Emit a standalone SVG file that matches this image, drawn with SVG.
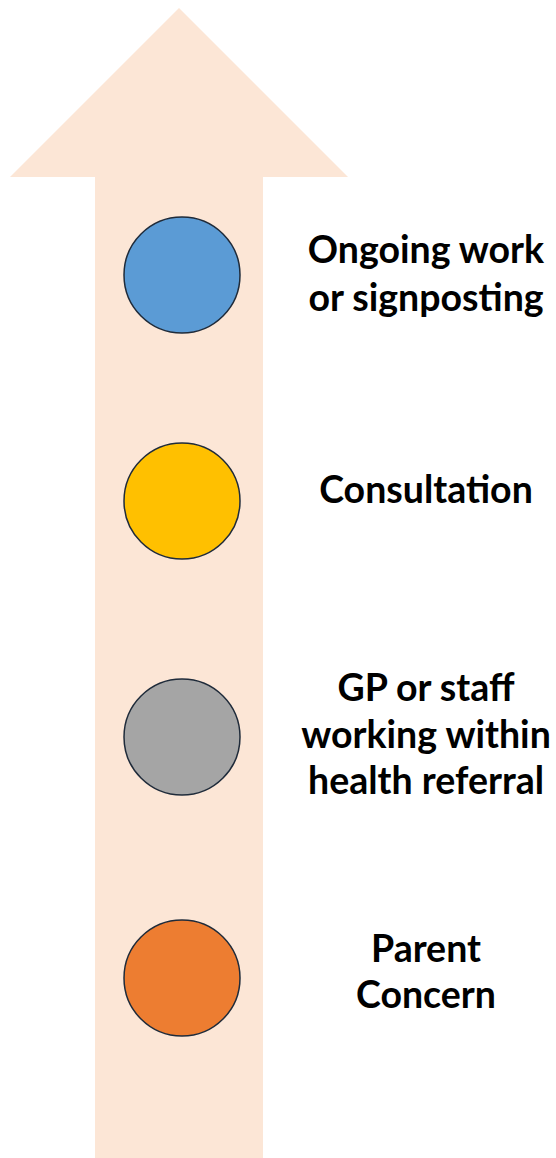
<svg xmlns="http://www.w3.org/2000/svg" width="556" height="1158" viewBox="0 0 556 1158">
<style>
.dot{stroke:#1f2b3a;stroke-width:1.5}
.lbl{font-family:Lato,"Open Sans","Liberation Sans",sans-serif;font-weight:bold;font-size:37.5px;fill:#000;text-anchor:middle}
</style>
<g id="arrow">
<polygon points="179,8 348,177 263,177 263,1158 95,1158 95,177 10,177" fill="#FCE6D6"/>
</g>
<g id="connectors"></g>
<g id="node-ongoing">
<circle class="dot" cx="182" cy="275" r="58" fill="#5B9BD5"/>
<text class="lbl" x="426" y="263">Ongoing work</text>
<text class="lbl" x="426" y="311">or signposting</text>
</g>
<g id="node-consultation">
<circle class="dot" cx="182" cy="501" r="58" fill="#FFC000"/>
<text class="lbl" x="426" y="503">Consultation</text>
</g>
<g id="node-gp">
<circle class="dot" cx="182" cy="737" r="58" fill="#A5A5A5"/>
<text class="lbl" x="426" y="701">GP or staff</text>
<text class="lbl" x="426" y="748">working within</text>
<text class="lbl" x="426" y="794">health referral</text>
</g>
<g id="node-parent">
<circle class="dot" cx="182" cy="978" r="58" fill="#ED7D31"/>
<text class="lbl" x="426" y="962">Parent</text>
<text class="lbl" x="426" y="1008">Concern</text>
</g>
</svg>
